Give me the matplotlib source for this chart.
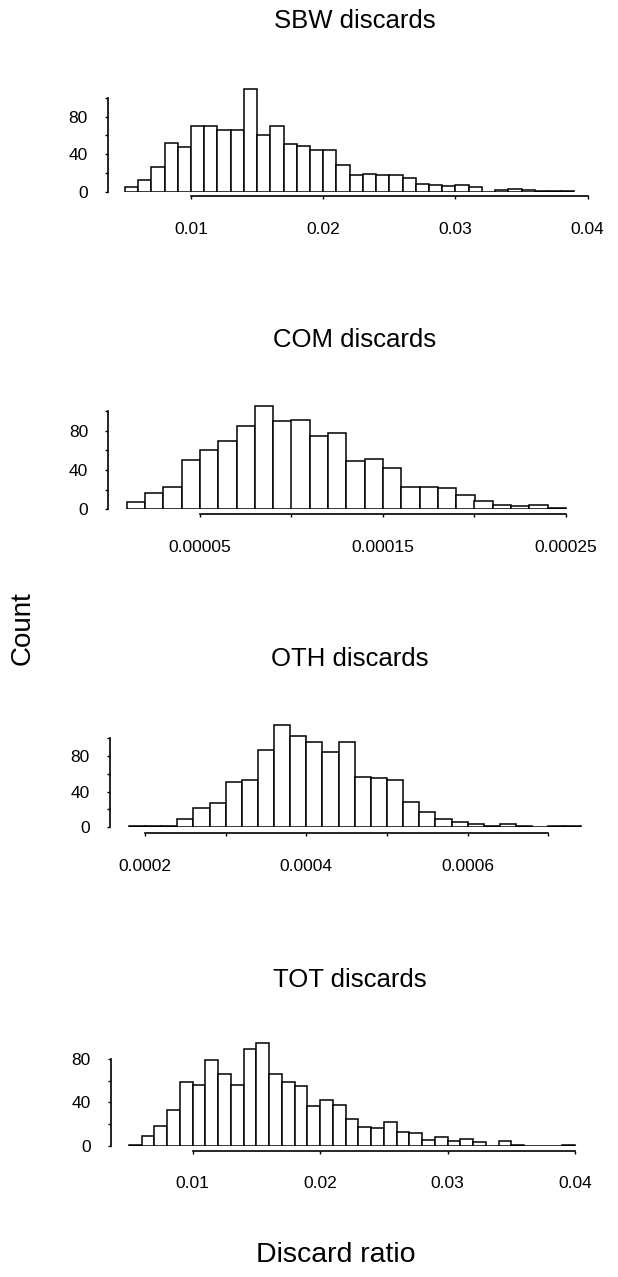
#!/usr/bin/python
## histograms of discard ratios, 4 panels

import matplotlib
matplotlib.use('Agg')
import matplotlib.pyplot as plt
import numpy as np

plt.rcParams['font.family'] = ['Liberation Sans', 'DejaVu Sans']

## Data (counts per bin)
sbw_edges = np.round(np.arange(0.005, 0.0395, 0.001), 4)
sbw_counts = [5, 12, 26, 52, 48, 70, 70, 66, 66, 110, 61, 70, 51, 49, 44, 44,
              29, 18, 19, 18, 18, 15, 8, 7, 6, 7, 5, 0, 2, 3, 2, 1, 1, 1]

com_edges = np.round(np.arange(0.00001, 0.000255, 0.00001), 6)
com_counts = [7, 17, 23, 50, 60, 69, 85, 105, 90, 91, 75, 78, 49, 51, 42, 23,
              23, 22, 15, 8, 4, 3, 4, 1]

oth_edges = np.round(np.arange(0.00018, 0.000745, 0.00002), 6)
oth_counts = [1, 1, 2, 9, 22, 27, 51, 53, 87, 115, 102, 96, 84, 96, 56, 55,
              53, 28, 17, 9, 6, 4, 2, 4, 1, 0, 1, 1]

tot_edges = np.round(np.arange(0.005, 0.0405, 0.001), 4)
tot_counts = [1, 9, 18, 33, 59, 56, 79, 66, 56, 89, 95, 66, 59, 55, 37, 42,
              38, 25, 17, 16, 22, 13, 12, 5, 8, 4, 6, 3, 0, 4, 1, 0, 0, 0, 1]

titles = ['SBW discards', 'COM discards', 'OTH discards', 'TOT discards']

## panel layout in pixels: (anchor px a, value a, anchor px b, value b,
## left px, zero line px, px per count, ymax, spine top, outward px)
W, H = 618., 1277.
layout = [
  (191.0, 0.01, 587.7, 0.04, 108.0, 191.7, 0.9375, 115, 100, 4.5),
  (200.0, 0.00005, 566.0, 0.00025, 108.3, 509.3, 0.983, 110, 100, 4.7),
  (145.0, 0.0002, 548.3, 0.0007, 110.0, 827.3, 0.892, 120, 100, 6.0),
  (192.7, 0.01, 575.0, 0.04, 110.7, 1145.7, 1.083, 100, 80, 5.0),
]
xticks = [
  ([0.01, 0.02, 0.03, 0.04], ['0.01', '0.02', '0.03', '0.04']),
  ([0.00005, 0.0001, 0.00015, 0.0002, 0.00025],
   ['0.00005', '', '0.00015', '', '0.00025']),
  ([0.0002, 0.0003, 0.0004, 0.0005, 0.0006, 0.0007],
   ['0.0002', '', '0.0004', '', '0.0006', '']),
  ([0.01, 0.02, 0.03, 0.04], ['0.01', '0.02', '0.03', '0.04']),
]
title_pos = [(355, 21), (355, 340), (350, 659), (350, 980)]


def main():
  fig = plt.figure(figsize=(W / 100, H / 100), dpi=100)
  fig.patch.set_facecolor('white')

  data = [(sbw_edges, sbw_counts), (com_edges, com_counts),
          (oth_edges, oth_counts), (tot_edges, tot_counts)]

  for i in range(4):
    pa, va, pb, vb, L, B, ppc, ymax, ytop, out = layout[i]
    R = 600.0
    T = B - ymax * ppc
    scale = (vb - va) / (pb - pa)
    x0 = va + (L - pa) * scale
    x1 = va + (R - pa) * scale

    ax = fig.add_axes([L / W, 1 - B / H, (R - L) / W, (B - T) / H])
    edges, counts = data[i]
    width = edges[1] - edges[0]
    ax.bar(edges[:len(counts)], counts, width=width, align='edge',
           facecolor='white', edgecolor='black', linewidth=1.1)
    ax.set_xlim(x0, x1)
    ax.set_ylim(0, ymax)

    ax.spines['top'].set_visible(False)
    ax.spines['right'].set_visible(False)
    ax.spines['left'].set_bounds(0, ytop)
    ax.spines['bottom'].set_bounds(xticks[i][0][0], xticks[i][0][-1])
    ax.spines['bottom'].set_position(('outward', out * 0.72))
    ax.spines['left'].set_linewidth(1.2)
    ax.spines['bottom'].set_linewidth(1.2)

    ax.set_xticks(xticks[i][0])
    ax.set_xticklabels(xticks[i][1])
    yt = list(range(0, ytop + 1, 20))
    ax.set_yticks(yt)
    ax.set_yticklabels([str(v) if v % 40 == 0 else '' for v in yt])
    ax.tick_params(axis='x', length=2.5, width=1, pad=16, labelsize=12.5)
    ax.tick_params(axis='y', length=2.5, width=1, pad=12, labelsize=12.5)

    fig.text(title_pos[i][0] / W, 1 - title_pos[i][1] / H, titles[i],
             ha='center', va='center', fontsize=18.5)

  fig.text(23 / W, 1 - 628 / H, 'Count', rotation=90, ha='center',
           va='center', fontsize=20)
  fig.text(336 / W, 1 - 1255 / H, 'Discard ratio', ha='center',
           va='center', fontsize=20.5)

  fig.savefig('out.png', dpi=100)


if __name__ == "__main__":
    main()
